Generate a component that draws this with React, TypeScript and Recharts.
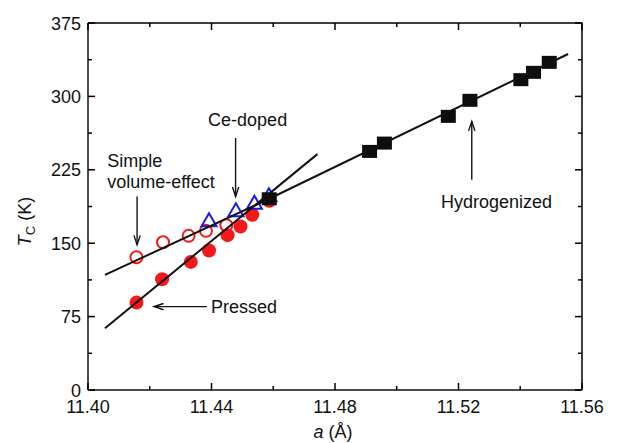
import React from 'react';
import { ScatterChart, Scatter, XAxis, YAxis, ReferenceLine, ReferenceDot } from 'recharts';

// ---- data ----
const simpleA = [11.4157, 11.4243, 11.4326, 11.4382, 11.4448];
const simpleTc = [135.7, 151.0, 157.5, 162.6, 168.4];

const pressedA = [11.4157, 11.424, 11.4333, 11.4392, 11.4452, 11.4494, 11.4532, 11.4587];
const pressedTc = [89.3, 113.2, 130.9, 142.5, 158.2, 167.1, 179.0, 193.3];

const ceA = [11.4392, 11.4479, 11.4539, 11.4586];
const ceTc = [172.9, 183.1, 190.9, 198.4];

const hydA = [11.4587, 11.4912, 11.496, 11.5167, 11.5237, 11.5402, 11.5443, 11.5494];
const hydTc = [195.4, 243.8, 252.3, 279.6, 296.0, 317.1, 324.6, 334.8];

const volFitA = [11.4055, 11.4587, 11.5555];
const volFitTc = [117.6, 195.4, 343.3];

const pressFitA = [11.4055, 11.4743];
const pressFitTc = [63.1, 241.0];

const xTicks = [11.40, 11.42, 11.44, 11.46, 11.48, 11.50, 11.52, 11.54, 11.56];
const yTicks = [0, 37.5, 75, 112.5, 150, 187.5, 225, 262.5, 300, 337.5, 375];
const X_MIN = 11.4;
const X_MAX = 11.56;
const Y_MIN = 0;
const Y_MAX = 375;

const annotations = [
  { a: 11.4517, tc: 275.9, text: 'Ce-doped', anchor: 'middle' },
  { a: 11.4062, tc: 234.0, text: 'Simple', anchor: 'start' },
  { a: 11.4062, tc: 213.0, text: 'volume-effect', anchor: 'start' },
  { a: 11.4398, tc: 85.8, text: 'Pressed', anchor: 'start' },
  { a: 11.5323, tc: 192.6, text: 'Hydrogenized', anchor: 'middle' },
];

const arrows = [
  { a1: 11.4478, tc1: 257.5, a2: 11.4478, tc2: 197.7 },
  { a1: 11.4159, tc1: 197.7, a2: 11.4159, tc2: 148.3 },
  { a1: 11.4385, tc1: 85.2, a2: 11.4214, tc2: 85.2 },
  { a1: 11.5243, tc1: 214.8, a2: 11.5243, tc2: 274.5 },
];

const zip = (xs: number[], ys: number[]) => xs.map((x, i) => ({ x, y: ys[i] }));

const FONT = '"Liberation Sans", Arial, sans-serif';
const INK = '#111111';

const isMajorX = (v: number) => Math.round(v * 100) % 4 === 0;
const isMajorY = (v: number) => Math.round(v * 10) % 750 === 0;

// Bottom axis tick: draws both the bottom tick mark and, mirrored, the top tick mark.
const BottomTick = (p: any) => {
  const v = p.payload.value;
  const major = isMajorX(v);
  const L = major ? 7 : 4;
  const y0 = p.y;
  const plotH = p.plotH || 0;
  return (
    <g>
      <path d={`M${p.x},${y0}L${p.x},${y0 - L}`} stroke="#000" strokeWidth={1.5} fill="none" />
      {plotH > 0 && (
        <path d={`M${p.x},${y0 - plotH}L${p.x},${y0 - plotH + L}`} stroke="#000" strokeWidth={1.5} fill="none" />
      )}
      {major && (
        <text x={p.x} y={y0 + 23} textAnchor="middle" fontSize={18} fontFamily={FONT} fill={INK} stroke="none">
          {v.toFixed(2)}
        </text>
      )}
    </g>
  );
};
const LeftTick = (p: any) => {
  const v = p.payload.value;
  const major = isMajorY(v);
  const L = major ? 7 : 4;
  const x0 = p.x;
  const plotW = p.plotW || 0;
  return (
    <g>
      <path d={`M${x0},${p.y}L${x0 + L},${p.y}`} stroke="#000" strokeWidth={1.5} fill="none" />
      {plotW > 0 && (
        <path d={`M${x0 + plotW},${p.y}L${x0 + plotW - L},${p.y}`} stroke="#000" strokeWidth={1.5} fill="none" />
      )}
      {major && (
        <text x={x0 - 7} y={p.y + 6.5} textAnchor="end" fontSize={18} fontFamily={FONT} fill={INK} stroke="none">
          {v}
        </text>
      )}
    </g>
  );
};

const Square = (p: any) => (
  <rect x={p.cx - 7.5} y={p.cy - 6.5} width={15} height={13} fill="#0d0d0d" />
);
const Dot = (p: any) => <circle cx={p.cx} cy={p.cy} r={7} fill="#f41818" />;
const Ring = (p: any) => <circle cx={p.cx} cy={p.cy} r={6} fill="none" stroke="#f41818" strokeWidth={2} />;
const Tri = (p: any) => (
  <polygon
    points={`${p.cx},${p.cy - 7.5} ${p.cx - 7.5},${p.cy + 5.5} ${p.cx + 7.5},${p.cy + 5.5}`}
    fill="none"
    stroke="#1c1ce6"
    strokeWidth={2}
  />
);
const Empty = () => <g />;

const Arrow = (p: any) => {
  const { x1, y1, x2, y2 } = p;
  const ang = Math.atan2(y2 - y1, x2 - x1);
  const L = 10;
  const w = 0.32;
  const ax = x2 - L * Math.cos(ang - w);
  const ay = y2 - L * Math.sin(ang - w);
  const bx = x2 - L * Math.cos(ang + w);
  const by = y2 - L * Math.sin(ang + w);
  return (
    <g>
      <line x1={x1} y1={y1} x2={x2} y2={y2} stroke={INK} strokeWidth={1.4} />
      <polyline points={`${ax},${ay} ${x2},${y2} ${bx},${by}`} fill="none" stroke={INK} strokeWidth={1.4} />
    </g>
  );
};

// Frame: drawn from the segment's two corner points (top-left and bottom-right of the plot)
const Frame = (p: any) => {
  const xl = Math.min(p.x1, p.x2);
  const xr = Math.max(p.x1, p.x2);
  const yt = Math.min(p.y1, p.y2);
  const yb = Math.max(p.y1, p.y2);
  return (
    <path d={`M${xl},${yt}L${xr},${yt}L${xr},${yb}`} stroke="#000" strokeWidth={1.5} fill="none" />
  );
};

const makeLabel = (text: string, anchor: string) => (p: any) => (
  <text x={p.cx} y={p.cy + 6.5} textAnchor={anchor} fontSize={18} fontFamily={FONT} fill={INK}>
    {text}
  </text>
);

const YTitle = (p: any) => {
  const vb = p.viewBox;
  const x = vb.x + 23;
  const y = vb.y + vb.height / 2 + 15;
  return (
    <text transform={`rotate(-90 ${x} ${y})`} x={x} y={y} textAnchor="middle" fontSize={18} fontFamily={FONT} fill="#111" stroke="none">
      <tspan fontStyle="italic" fill="#111">T</tspan>
      <tspan fontSize={13} dy={4} fill="#111">C</tspan>
      <tspan dy={-4} fill="#111"> (K)</tspan>
    </text>
  );
};
const XTitle = (p: any) => {
  const vb = p.viewBox;
  const x = vb.x + vb.width / 2 - 2;
  const y = vb.y + 48;
  return (
    <text x={x} y={y} textAnchor="middle" fontSize={18} fontFamily={FONT} fill={INK} stroke="none">
      <tspan fontStyle="italic" fill={INK}>a</tspan>
      <tspan fill={INK}> (Å)</tspan>
    </text>
  );
};

const W = 609;
const H = 435;
const M = { top: 15, right: 35, bottom: 0, left: 0 };
const XAXIS_H = 53;
const YAXIS_W = 80;
const PLOT_W = W - M.left - M.right - YAXIS_W;
const PLOT_H = H - M.top - M.bottom - XAXIS_H;

export default function App() {
  return (
    <div style={{ width: W, height: H }}>
      <ScatterChart width={W} height={H} margin={M}>
        <XAxis
          xAxisId="b"
          type="number"
          dataKey="x"
          domain={[X_MIN, X_MAX]}
          ticks={xTicks}
          height={XAXIS_H}
          tickSize={0}
          tickMargin={0}
          tickLine={false}
          tick={<BottomTick plotH={PLOT_H} />}
          interval={0}
          axisLine={{ stroke: INK, strokeWidth: 1.5 }}
          label={<XTitle />}
        />
        <YAxis
          yAxisId="l"
          type="number"
          dataKey="y"
          domain={[Y_MIN, Y_MAX]}
          ticks={yTicks}
          width={YAXIS_W}
          tickSize={0}
          tickMargin={0}
          tickLine={false}
          tick={<LeftTick plotW={PLOT_W} />}
          interval={0}
          axisLine={{ stroke: INK, strokeWidth: 1.5 }}
          label={<YTitle />}
        />

        <Scatter xAxisId="b" yAxisId="l" data={zip(simpleA, simpleTc)} shape={<Ring />} isAnimationActive={false} />
        <Scatter xAxisId="b" yAxisId="l" data={zip(pressedA, pressedTc)} shape={<Dot />} isAnimationActive={false} />
        <Scatter xAxisId="b" yAxisId="l" data={zip(ceA, ceTc)} shape={<Tri />} isAnimationActive={false} />
        <Scatter xAxisId="b" yAxisId="l" data={zip(hydA, hydTc)} shape={<Square />} isAnimationActive={false} />

        <Scatter
          xAxisId="b"
          yAxisId="l"
          data={zip(volFitA, volFitTc)}
          shape={<Empty />}
          line={{ stroke: '#111', strokeWidth: 2 }}
          lineType="joint"
          isAnimationActive={false}
        />
        <Scatter
          xAxisId="b"
          yAxisId="l"
          data={zip(pressFitA, pressFitTc)}
          shape={<Empty />}
          line={{ stroke: '#111', strokeWidth: 2 }}
          lineType="joint"
          isAnimationActive={false}
        />

        <ReferenceLine
          xAxisId="b"
          yAxisId="l"
          segment={[{ x: X_MIN, y: Y_MAX }, { x: X_MAX, y: Y_MIN }]}
          shape={Frame}
          ifOverflow="visible"
        />
        {arrows.map((ar, i) => (
          <ReferenceLine
            key={'ar' + i}
            xAxisId="b"
            yAxisId="l"
            segment={[{ x: ar.a1, y: ar.tc1 }, { x: ar.a2, y: ar.tc2 }]}
            shape={Arrow}
            ifOverflow="visible"
          />
        ))}
        {annotations.map((an, i) => (
          <ReferenceDot
            key={'an' + i}
            xAxisId="b"
            yAxisId="l"
            x={an.a}
            y={an.tc}
            r={0}
            shape={makeLabel(an.text, an.anchor)}
            ifOverflow="visible"
          />
        ))}
      </ScatterChart>
    </div>
  );
}
